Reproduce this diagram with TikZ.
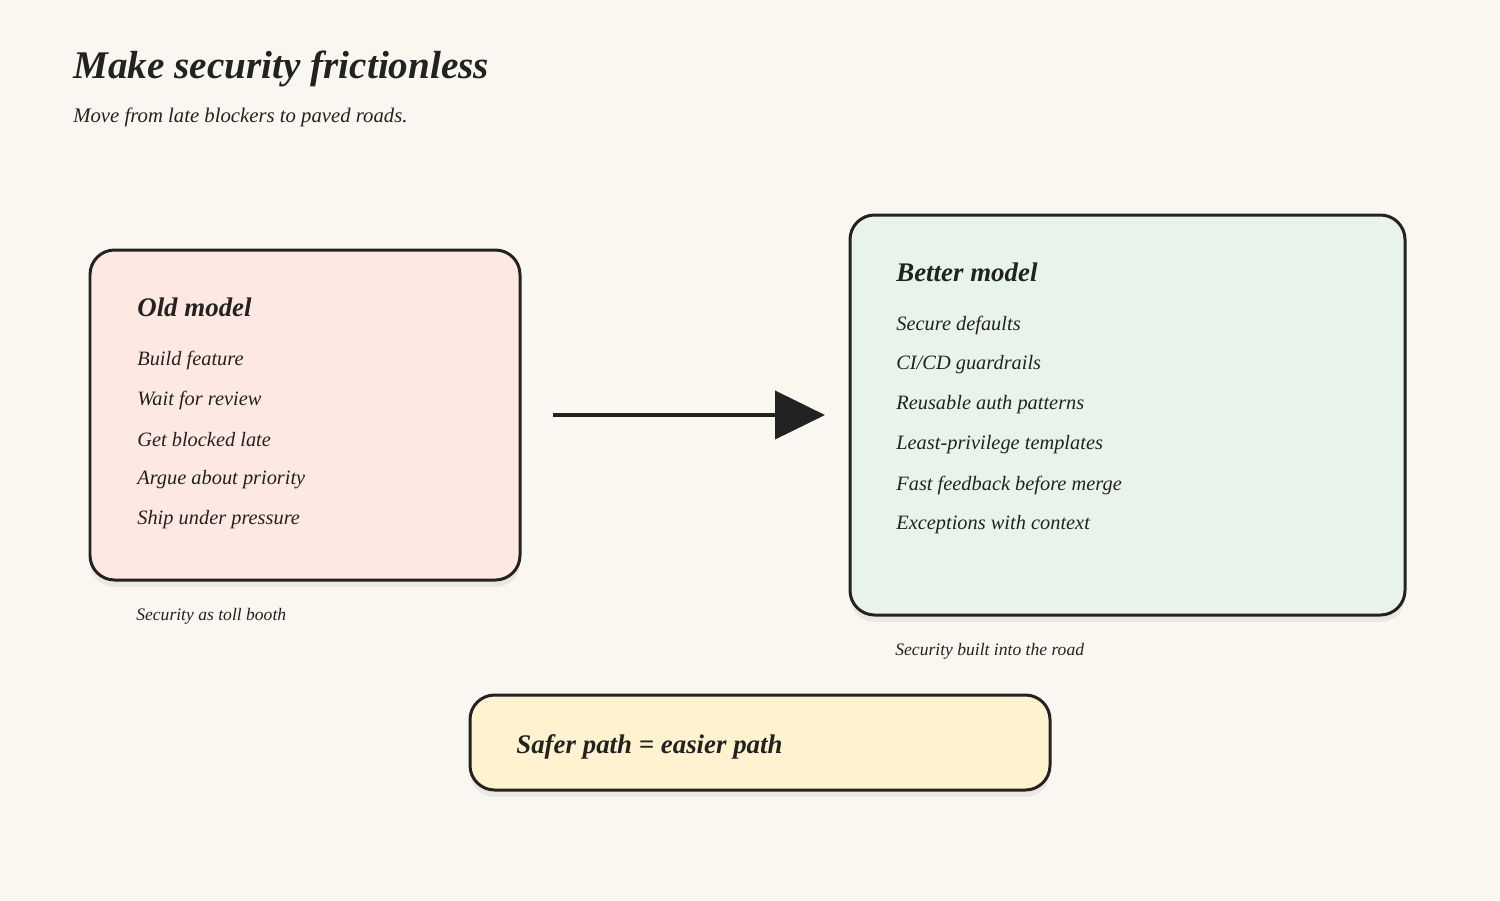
\documentclass[tikz,border=0pt]{standalone}
\usepackage{fontspec}
\setmainfont{Liberation Serif}
\usetikzlibrary{positioning,arrows.meta,shadows}
\definecolor{paper}{HTML}{FAF7F0}
\definecolor{ink}{HTML}{222222}
\definecolor{oldfill}{HTML}{FDE8E2}
\definecolor{newfill}{HTML}{E8F4EA}
\definecolor{notefill}{HTML}{FFF3CF}
\tikzset{>=Triangle}

\begin{document}
\begin{tikzpicture}[x=0.02cm,y=-0.02cm,
    card/.style={draw=ink,line width=1.7pt,rounded corners=14pt,
      drop shadow={opacity=0.12,shadow xshift=0pt,shadow yshift=-4pt}},
    item/.style={anchor=west,font=\fontsize{11.6}{14}\selectfont\itshape,text=ink,inner sep=0pt},
    head/.style={anchor=west,font=\fontsize{15.3}{18}\selectfont\bfseries\itshape,text=ink,inner sep=0pt},
    note/.style={anchor=west,font=\fontsize{10}{12}\selectfont\itshape,text=ink,inner sep=0pt}]
  \fill[paper] (0,0) rectangle (1500,900);
  \useasboundingbox (0,0) rectangle (1500,900);
  % title
  \node[anchor=west,inner sep=0pt,font=\fontsize{22.3}{26}\selectfont\bfseries\itshape,text=ink] (title) at (73,69) {Make security frictionless};
  \node[anchor=west,inner sep=0pt,font=\fontsize{11.8}{14}\selectfont\itshape,text=ink] (sub) at (73,117) {Move from late blockers to paved roads.};
  % old model
  \draw[card,fill=oldfill] (90,250) rectangle (520,580);
  \node[head] (oldhead) at (137,307) {Old model};
  \foreach \t [count=\i] in {Build feature,Wait for review,Get blocked late,Argue about priority,Ship under pressure}
    \node[item] (old\i) at (137,320+\i*40) {\t};
  \node[note] (oldnote) at (136,616) {Security as toll booth};
  % better model
  \draw[card,fill=newfill] (850,215) rectangle (1405,615);
  \node[head] (newhead) at (896,272) {Better model};
  \foreach \t [count=\i] in {Secure defaults,CI/CD guardrails,Reusable auth patterns,Least-privilege templates,Fast feedback before merge,Exceptions with context}
    \node[item] (new\i) at (896,285+\i*40) {\t};
  \node[note] (newnote) at (895,651) {Security built into the road};
  % arrow
  \coordinate (from) at (553,415);
  \coordinate (to) at (825,415);
  \draw[->,ink,line width=2.3pt,arrows={-Triangle[length=50*0.02cm,width=48*0.02cm]}] (from) -- (to);
  % takeaway
  \draw[card,fill=notefill] (470,695) rectangle (1050,790);
  \node[head] (take) at (516,747) {Safer path = easier path};
\end{tikzpicture}
\end{document}
